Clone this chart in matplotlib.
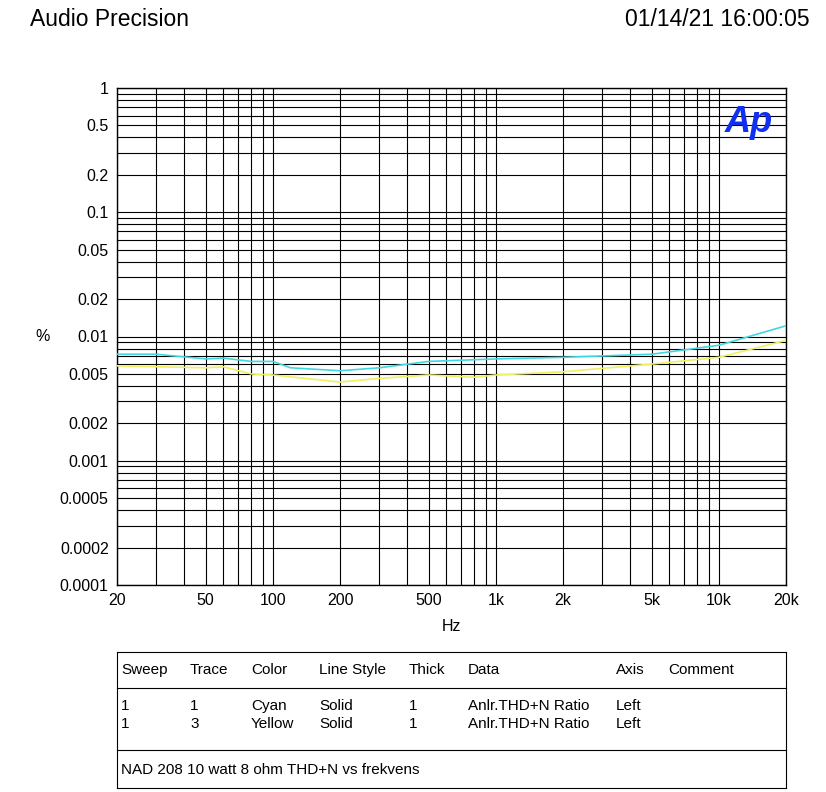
import matplotlib
matplotlib.use("Agg")
import matplotlib.pyplot as plt
from matplotlib.ticker import FixedLocator, NullFormatter, LogLocator
from matplotlib.lines import Line2D

freq_cyan = [20, 30, 50, 60, 80, 100, 120, 200, 300, 500, 1000, 2000, 5000, 10000, 20000]
thd_cyan = [0.0072, 0.0072, 0.0066, 0.0067, 0.0063, 0.0063, 0.0056, 0.0053, 0.0056, 0.0063, 0.0066, 0.0068, 0.0072, 0.0085, 0.0122]
freq_yellow = [20, 50, 60, 80, 100, 200, 300, 500, 800, 1000, 2000, 5000, 10000, 20000]
thd_yellow = [0.0058, 0.0056, 0.0057, 0.0050, 0.0049, 0.0043, 0.0046, 0.0049, 0.0047, 0.0049, 0.0052, 0.0060, 0.0068, 0.0093]
xticks = [20, 50, 100, 200, 500, 1000, 2000, 5000, 10000, 20000]
xlabels = ["20", "50", "100", "200", "500", "1k", "2k", "5k", "10k", "20k"]
yticks = [1, 0.5, 0.2, 0.1, 0.05, 0.02, 0.01, 0.005, 0.002, 0.001, 0.0005, 0.0002, 0.0001]
ylabels = ["1", "0.5", "0.2", "0.1", "0.05", "0.02", "0.01", "0.005", "0.002", "0.001", "0.0005", "0.0002", "0.0001"]

W, H = 826, 792
fig = plt.figure(figsize=(W/100, H/100), dpi=100)
plt.rcParams["font.family"] = "Liberation Sans"
ax = fig.add_axes([117/W, 1-585/H, (786-117)/W, (585-88)/H])
ax.set_xscale("log"); ax.set_yscale("log")
ax.set_xlim(20, 20000); ax.set_ylim(0.0001, 1)
ax.xaxis.set_major_locator(FixedLocator(xticks))
ax.set_xticklabels(xlabels)
ax.xaxis.set_minor_locator(LogLocator(subs=range(1, 10), numticks=50))
ax.xaxis.set_minor_formatter(NullFormatter())
ax.yaxis.set_major_locator(FixedLocator(yticks))
ax.set_yticklabels(ylabels)
ax.yaxis.set_minor_locator(LogLocator(subs=range(1, 10), numticks=50))
ax.yaxis.set_minor_formatter(NullFormatter())
ax.grid(True, which="both", color="black", lw=0.8)
ax.tick_params(which="both", length=0, labelsize=11.5, pad=6)
for s in ax.spines.values():
    s.set_linewidth(1)
ax.plot(freq_cyan, thd_cyan, color="#40d8e0", lw=1.2, zorder=3)
ax.plot(freq_yellow, thd_yellow, color="#f0f060", lw=1.2, zorder=3)
ax.set_xlabel("Hz", fontsize=11.5, labelpad=8)
fig.text(35/W, 1-336/H, "%", fontsize=11.5, va="center")
ax.text(0.98, 0.965, "Ap", transform=ax.transAxes, ha="right", va="top",
        fontsize=26, color="#1030f0", fontweight="bold", style="italic")
fig.text(30/W, 1-20/H, "Audio Precision", fontsize=16.5, va="center")
fig.text(810/W, 1-20/H, "01/14/21 16:00:05", fontsize=16.5, va="center", ha="right")

# table
def hl(y):
    fig.add_artist(Line2D([117/W, 786/W], [1-y/H, 1-y/H], color="black", lw=0.8))
def vl(x):
    fig.add_artist(Line2D([x/W, x/W], [1-652/H, 1-788/H], color="black", lw=0.8))
hl(652); hl(688); hl(750); hl(788); vl(117); vl(786)
cols = [121, 190, 251, 319, 409, 468, 616, 668]
heads = ["Sweep", "Trace", "Color", "Line Style", "Thick", "Data", "Axis", "Comment"]
rows = [["1", "1", "Cyan", "Solid", "1", "Anlr.THD+N Ratio", "Left"],
        ["1", "3", "Yellow", "Solid", "1", "Anlr.THD+N Ratio", "Left"]]
for x, h in zip(cols, heads):
    fig.text(x/W, 1-670/H, h, fontsize=11, va="center")
for r, y in zip(rows, [706, 724]):
    for x, t in zip(cols, r):
        fig.text(x/W, 1-y/H, t, fontsize=11, va="center")
fig.text(121/W, 1-770/H, "NAD 208 10 watt 8 ohm THD+N vs frekvens", fontsize=11, va="center")
fig.savefig("out.png", dpi=100)
